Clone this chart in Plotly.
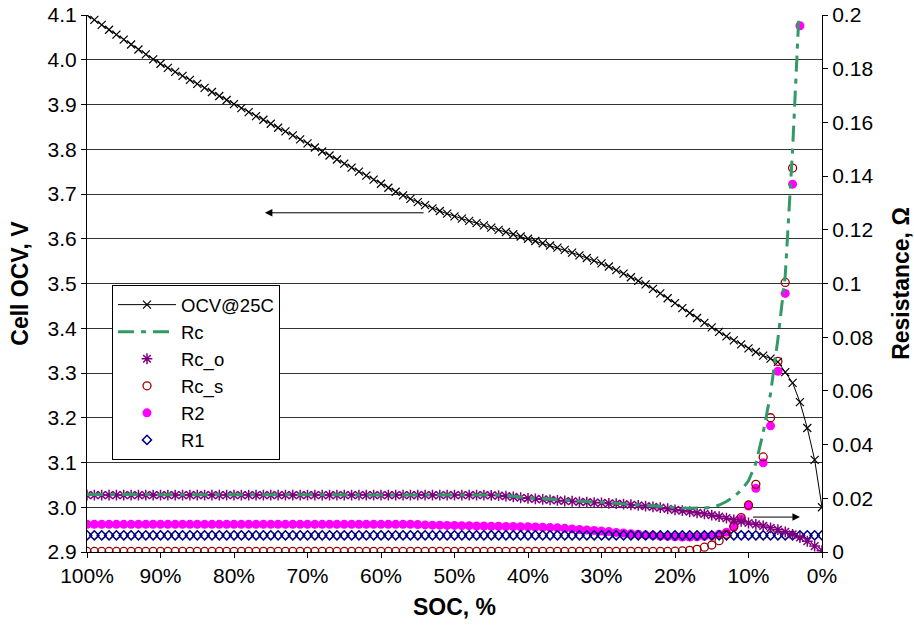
import plotly.graph_objects as go

# State of charge, % (x categories, 100 -> 0)
soc = list(range(100, -1, -1))

# Cell OCV @25C, V
ocv = [
    4.100, 4.089, 4.078, 4.067, 4.056, 4.045, 4.034, 4.023, 4.012, 4.001,
    3.991, 3.982, 3.973, 3.964, 3.955, 3.946, 3.937, 3.928, 3.919, 3.910,
    3.901, 3.892, 3.883, 3.874, 3.866, 3.857, 3.848, 3.840, 3.831, 3.822,
    3.813, 3.804, 3.795, 3.786, 3.777, 3.768, 3.759, 3.750, 3.741, 3.732,
    3.723, 3.714, 3.705, 3.697, 3.689, 3.682, 3.675, 3.668, 3.662, 3.656,
    3.650, 3.645, 3.640, 3.635, 3.630, 3.625, 3.620, 3.615, 3.610, 3.605,
    3.600, 3.595, 3.590, 3.585, 3.580, 3.575, 3.569, 3.563, 3.557, 3.551,
    3.545, 3.538, 3.530, 3.522, 3.514, 3.506, 3.498, 3.488, 3.478, 3.467,
    3.456, 3.445, 3.434, 3.423, 3.412, 3.402, 3.392, 3.382, 3.373, 3.364,
    3.355, 3.347, 3.339, 3.332, 3.325, 3.302, 3.278, 3.235, 3.177, 3.106,
    3.000,
]

# Resistances, Ohm
rc = [
    0.0214, 0.0214, 0.0214, 0.0214, 0.0214, 0.0214, 0.0214, 0.0214, 0.0214, 0.0214,
    0.0214, 0.0214, 0.0214, 0.0214, 0.0214, 0.0214, 0.0214, 0.0214, 0.0214, 0.0214,
    0.0214, 0.0214, 0.0214, 0.0214, 0.0214, 0.0214, 0.0214, 0.0214, 0.0214, 0.0214,
    0.0214, 0.0214, 0.0214, 0.0214, 0.0214, 0.0214, 0.0214, 0.0214, 0.0214, 0.0214,
    0.0214, 0.0214, 0.0214, 0.0214, 0.0214, 0.0214, 0.0214, 0.0214, 0.0214, 0.0214,
    0.0214, 0.0214, 0.0214, 0.0214, 0.0214, 0.0213, 0.0212, 0.0210, 0.0207, 0.0204,
    0.0202, 0.0200, 0.0198, 0.0196, 0.0194, 0.0192, 0.0191, 0.0189, 0.0188, 0.0186,
    0.0185, 0.0183, 0.0182, 0.0180, 0.0178, 0.0176, 0.0172, 0.0170, 0.0168, 0.0166,
    0.0165, 0.0164, 0.0163, 0.0163, 0.0164, 0.0167, 0.0175, 0.0188, 0.0206, 0.0230,
    0.0265, 0.0330, 0.0445, 0.0590, 0.0793, 0.1030, 0.1500, 0.2084, 0.2920, 0.4120,
    0.5810,
]

rc_o = [
    0.0212, 0.0212, 0.0212, 0.0212, 0.0212, 0.0212, 0.0212, 0.0212, 0.0212, 0.0212,
    0.0212, 0.0212, 0.0212, 0.0212, 0.0212, 0.0212, 0.0212, 0.0212, 0.0212, 0.0212,
    0.0212, 0.0212, 0.0212, 0.0212, 0.0212, 0.0212, 0.0212, 0.0212, 0.0212, 0.0212,
    0.0212, 0.0212, 0.0212, 0.0212, 0.0212, 0.0212, 0.0212, 0.0212, 0.0212, 0.0212,
    0.0212, 0.0212, 0.0212, 0.0212, 0.0212, 0.0212, 0.0212, 0.0212, 0.0212, 0.0212,
    0.0212, 0.0212, 0.0212, 0.0212, 0.0212, 0.0211, 0.0210, 0.0208, 0.0205, 0.0202,
    0.0200, 0.0198, 0.0196, 0.0194, 0.0192, 0.0190, 0.0189, 0.0187, 0.0186, 0.0184,
    0.0183, 0.0181, 0.0180, 0.0178, 0.0176, 0.0174, 0.0171, 0.0168, 0.0165, 0.0161,
    0.0157, 0.0154, 0.0150, 0.0146, 0.0142, 0.0137, 0.0132, 0.0126, 0.0120, 0.0114,
    0.0108, 0.0103, 0.0097, 0.0090, 0.0083, 0.0075, 0.0066, 0.0054, 0.0040, 0.0022,
    0.0005,
]

rc_s = [
    0.0002, 0.0002, 0.0002, 0.0002, 0.0002, 0.0002, 0.0002, 0.0002, 0.0002, 0.0002,
    0.0002, 0.0002, 0.0002, 0.0002, 0.0002, 0.0002, 0.0002, 0.0002, 0.0002, 0.0002,
    0.0002, 0.0002, 0.0002, 0.0002, 0.0002, 0.0002, 0.0002, 0.0002, 0.0002, 0.0002,
    0.0002, 0.0002, 0.0002, 0.0002, 0.0002, 0.0002, 0.0002, 0.0002, 0.0002, 0.0002,
    0.0002, 0.0002, 0.0002, 0.0002, 0.0002, 0.0002, 0.0002, 0.0002, 0.0002, 0.0002,
    0.0002, 0.0002, 0.0002, 0.0002, 0.0002, 0.0002, 0.0002, 0.0002, 0.0002, 0.0002,
    0.0002, 0.0002, 0.0002, 0.0002, 0.0002, 0.0002, 0.0002, 0.0002, 0.0002, 0.0002,
    0.0002, 0.0002, 0.0002, 0.0002, 0.0002, 0.0002, 0.0002, 0.0002, 0.0002, 0.0002,
    0.0003, 0.0004, 0.0006, 0.0010, 0.0018, 0.0026, 0.0042, 0.0066, 0.0095, 0.0128,
    0.0175, 0.0252, 0.0354, 0.0500, 0.0710, 0.1004, 0.1430, 0.2030, 0.2880, 0.4100,
    0.5800,
]

r2 = [
    0.0103, 0.0103, 0.0103, 0.0103, 0.0103, 0.0103, 0.0103, 0.0103, 0.0103, 0.0103,
    0.0103, 0.0103, 0.0103, 0.0103, 0.0103, 0.0103, 0.0103, 0.0103, 0.0103, 0.0103,
    0.0103, 0.0103, 0.0103, 0.0103, 0.0103, 0.0103, 0.0103, 0.0103, 0.0103, 0.0103,
    0.0103, 0.0103, 0.0103, 0.0103, 0.0103, 0.0103, 0.0103, 0.0103, 0.0103, 0.0103,
    0.0103, 0.0103, 0.0103, 0.0103, 0.0103, 0.0102, 0.0101, 0.0100, 0.0100, 0.0099,
    0.0099, 0.0098, 0.0098, 0.0097, 0.0097, 0.0096, 0.0096, 0.0095, 0.0095, 0.0094,
    0.0094, 0.0093, 0.0092, 0.0091, 0.0090, 0.0088, 0.0086, 0.0084, 0.0082, 0.0080,
    0.0078, 0.0076, 0.0073, 0.0071, 0.0068, 0.0066, 0.0063, 0.0061, 0.0059, 0.0058,
    0.0057, 0.0056, 0.0056, 0.0057, 0.0058, 0.0061, 0.0066, 0.0074, 0.0093, 0.0123,
    0.0171, 0.0237, 0.0332, 0.0470, 0.0673, 0.0963, 0.1370, 0.1960, 0.2800, 0.4000,
    0.5600,
]

r1 = [
    0.0062, 0.0062, 0.0062, 0.0062, 0.0062, 0.0062, 0.0062, 0.0062, 0.0062, 0.0062,
    0.0062, 0.0062, 0.0062, 0.0062, 0.0062, 0.0062, 0.0062, 0.0062, 0.0062, 0.0062,
    0.0062, 0.0062, 0.0062, 0.0062, 0.0062, 0.0062, 0.0062, 0.0062, 0.0062, 0.0062,
    0.0062, 0.0062, 0.0062, 0.0062, 0.0062, 0.0062, 0.0062, 0.0062, 0.0062, 0.0062,
    0.0062, 0.0062, 0.0062, 0.0062, 0.0062, 0.0062, 0.0062, 0.0062, 0.0062, 0.0062,
    0.0062, 0.0062, 0.0062, 0.0062, 0.0062, 0.0062, 0.0062, 0.0062, 0.0062, 0.0062,
    0.0062, 0.0062, 0.0062, 0.0062, 0.0062, 0.0062, 0.0062, 0.0062, 0.0062, 0.0062,
    0.0062, 0.0062, 0.0062, 0.0062, 0.0062, 0.0062, 0.0062, 0.0062, 0.0062, 0.0062,
    0.0062, 0.0062, 0.0062, 0.0062, 0.0062, 0.0062, 0.0062, 0.0062, 0.0062, 0.0062,
    0.0062, 0.0062, 0.0062, 0.0062, 0.0062, 0.0062, 0.0062, 0.0062, 0.0062, 0.0062,
    0.0062,
]

x_tickvals = [100, 90, 80, 70, 60, 50, 40, 30, 20, 10, 0]
x_ticktext = ["100%", "90%", "80%", "70%", "60%", "50%", "40%", "30%", "20%", "10%", "0%"]

FONT = "Liberation Sans, Arial, sans-serif"

fig = go.Figure()

fig.add_trace(go.Scatter(
    x=soc, y=ocv, name="OCV@25C", mode="lines+markers", yaxis="y",
    line=dict(color="black", width=1),
    marker=dict(symbol="x-thin-open", size=8, line=dict(color="black", width=1.2)),
    legendrank=1,
))
fig.add_trace(go.Scatter(
    x=soc, y=r2, name="R2", mode="markers", yaxis="y2",
    marker=dict(symbol="circle", size=9, color="#FF00FF"),
    legendrank=5,
))
fig.add_trace(go.Scatter(
    x=soc, y=r1, name="R1", mode="markers", yaxis="y2",
    marker=dict(symbol="diamond-open", size=7, color="#000080", line=dict(width=1.5)),
    legendrank=6,
))
fig.add_trace(go.Scatter(
    x=soc, y=rc_s, name="Rc_s", mode="markers", yaxis="y2",
    marker=dict(symbol="circle-open", size=8, color="#990000", line=dict(width=1.3)),
    legendrank=4,
))
fig.add_trace(go.Scatter(
    x=soc, y=rc_o, name="Rc_o", mode="markers", yaxis="y2",
    marker=dict(symbol="asterisk-open", size=9, color="#800080", line=dict(color="#800080", width=1.5)),
    legendrank=3,
))
fig.add_trace(go.Scatter(
    x=soc, y=rc, name="Rc", mode="lines", yaxis="y2",
    line=dict(color="#339966", width=3, dash="16px,7px,5px,7px"),
    legendrank=2,
))

fig.update_layout(
    width=914, height=628,
    margin=dict(l=87, r=92, t=15, b=76, autoexpand=False),
    paper_bgcolor="white", plot_bgcolor="white",
    font=dict(family=FONT, size=20, color="black"),
    showlegend=True,
    legend=dict(
        x=0.034, y=0.497, xanchor="left", yanchor="top",
        bgcolor="white", bordercolor="black", borderwidth=1,
        font=dict(family=FONT, size=18.5, color="black"),
        tracegroupgap=0, itemwidth=58,
    ),
    xaxis=dict(
        range=[100, 0], tickvals=x_tickvals, ticktext=x_ticktext,
        showline=True, linecolor="black", linewidth=1,
        ticks="outside", ticklen=5, tickcolor="black",
        showgrid=False, zeroline=False, automargin=False,
        tickfont=dict(family=FONT, size=21),
        title=dict(text="<b>SOC, %</b>", font=dict(family=FONT, size=23), standoff=12),
    ),
    yaxis=dict(
        range=[2.9, 4.1], dtick=0.1, tick0=2.9, tickformat=".1f",
        showline=True, linecolor="black", linewidth=1,
        ticks="outside", ticklen=5, tickcolor="black",
        showgrid=True, gridcolor="#333333", gridwidth=1, zeroline=False, automargin=False,
        tickfont=dict(family=FONT, size=21),
        title=dict(text="<b>Cell OCV, V</b>", font=dict(family=FONT, size=23), standoff=12),
    ),
    yaxis2=dict(
        range=[0, 0.2], dtick=0.02, tick0=0, overlaying="y", side="right",
        showline=True, linecolor="black", linewidth=1,
        ticks="outside", ticklen=5, tickcolor="black",
        showgrid=False, zeroline=False, automargin=False,
        tickfont=dict(family=FONT, size=21),
        title=dict(text="<b>Resistance, Ω</b>", font=dict(family=FONT, size=23), standoff=20),
    ),
)

# Arrows pointing to the axis each curve group belongs to
fig.add_annotation(x=75.8, y=3.658, ax=54.0, ay=3.658, xref="x", yref="y", axref="x", ayref="y",
                   text="", showarrow=True, arrowhead=2, arrowsize=1.5, arrowwidth=1,
                   arrowcolor="black", standoff=0)
fig.add_annotation(x=3.0, y=2.978, ax=9.6, ay=2.978, xref="x", yref="y", axref="x", ayref="y",
                   text="", showarrow=True, arrowhead=2, arrowsize=1.5, arrowwidth=1,
                   arrowcolor="black", standoff=0)

fig.write_html("out.html")
